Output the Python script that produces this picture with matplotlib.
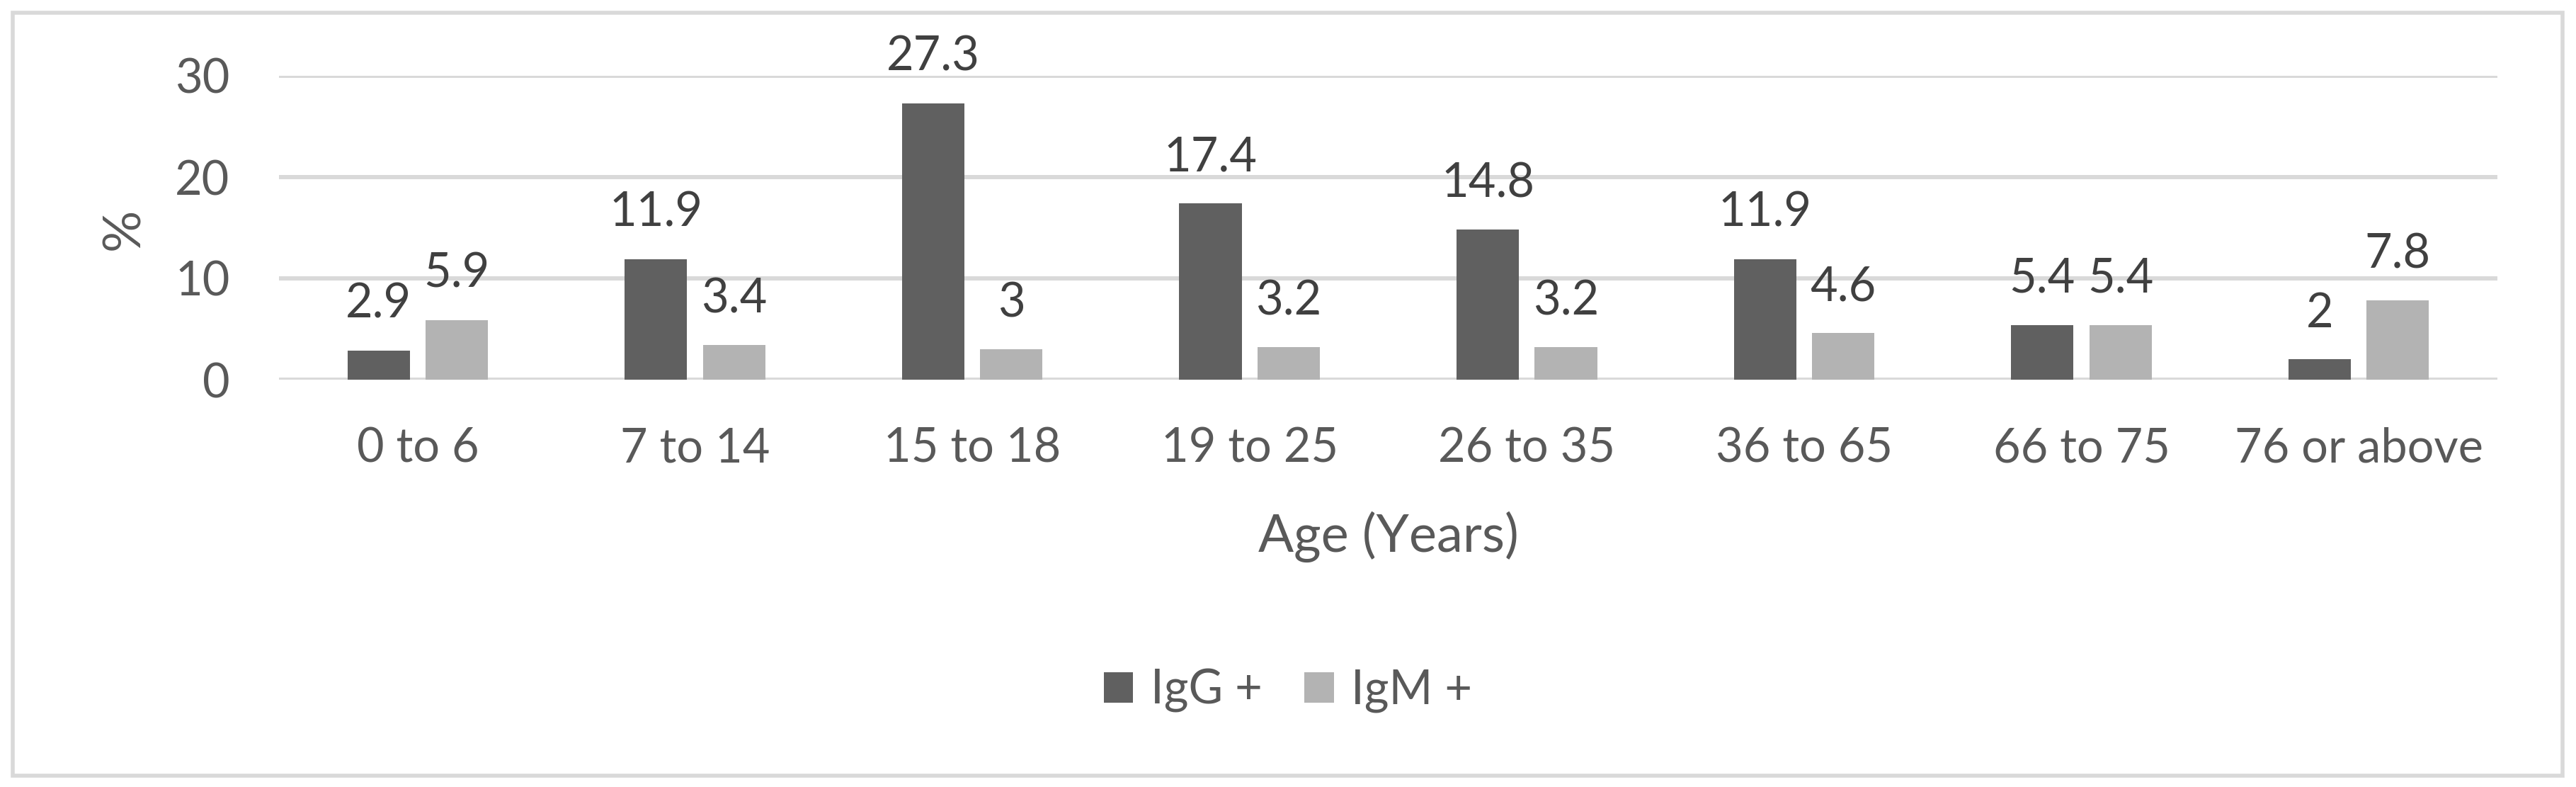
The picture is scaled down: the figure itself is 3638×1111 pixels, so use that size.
import matplotlib
matplotlib.use("Agg")
import matplotlib.pyplot as plt
import numpy as np
from matplotlib.patches import Rectangle

categories = ["0 to 6", "7 to 14", "15 to 18", "19 to 25", "26 to 35", "36 to 65", "66 to 75", "76 or above"]
igg = [2.9, 11.9, 27.3, 17.4, 14.8, 11.9, 5.4, 2]
igm = [5.9, 3.4, 3, 3.2, 3.2, 4.6, 5.4, 7.8]
series_names = ["IgG +", "IgM +"]
yticks = [0, 10, 20, 30]

plt.rcParams['font.family'] = ['Lato', 'DejaVu Sans']
W, H = 3638, 1111
fig = plt.figure(figsize=(W / 100, H / 100), dpi=100)

L, R, T, B = 394, 3527, 107, 536
ax = fig.add_axes([L / W, 1 - B / H, (R - L) / W, (B - T) / H])

dark = "#606060"
light = "#B3B3B3"
text_c = "#595959"
lab_c = "#404040"
grid_c = "#D9D9D9"
fs = 48

x = np.arange(len(categories))
bw = 0.225
off = 0.141
b1 = ax.bar(x - off, igg, bw, color=dark, label=series_names[0], zorder=3)
b2 = ax.bar(x + off, igm, bw, color=light, label=series_names[1], zorder=3)

for bars, vals in ((b1, igg), (b2, igm)):
    for rect, v in zip(bars, vals):
        ax.annotate(f"{v:g}", (rect.get_x() + rect.get_width() / 2, v),
                    xytext=(0, 33), textcoords="offset points",
                    ha="center", va="baseline", fontsize=fs, color=lab_c,
                    annotation_clip=False)

ax.set_xlim(-0.5, len(categories) - 0.5)
ax.set_ylim(0, 30)
ax.set_yticks(yticks)
ax.set_xticks(x)
ax.set_xticklabels(categories)
ax.tick_params(axis='both', length=0, labelsize=fs, labelcolor=text_c)
ax.tick_params(axis='y', pad=50)
ax.tick_params(axis='x', pad=48)
ax.yaxis.grid(True, color=grid_c, linewidth=4.3, zorder=0)
ax.set_axisbelow(True)
for s in ax.spines.values():
    s.set_visible(False)

fig.text(((L + R) / 2) / W, 1 - 779 / H, "Age (Years)", ha="center", va="baseline",
         fontsize=fs * 10 / 9, color=text_c)
fig.text(176 / W, 1 - 323 / H, "%", ha="center", va="center", rotation=90,
         fontsize=fs * 10 / 9, color=text_c)

handles, labels = ax.get_legend_handles_labels()
leg = fig.legend(handles, labels, loc="center", bbox_to_anchor=(1819 / W, 1 - 975 / H),
                 ncol=2, frameon=False, fontsize=fs, labelcolor=text_c,
                 handlelength=0.62, handleheight=0.62, handletextpad=0.37,
                 columnspacing=0.9, borderpad=0, borderaxespad=0)

fig.patches.append(Rectangle((18 / W, 1 - 1095 / H), (3619 - 18) / W, (1095 - 18) / H,
                             transform=fig.transFigure, fill=False,
                             edgecolor=grid_c, linewidth=4))

fig.savefig("out.png", dpi=100, facecolor="white")
